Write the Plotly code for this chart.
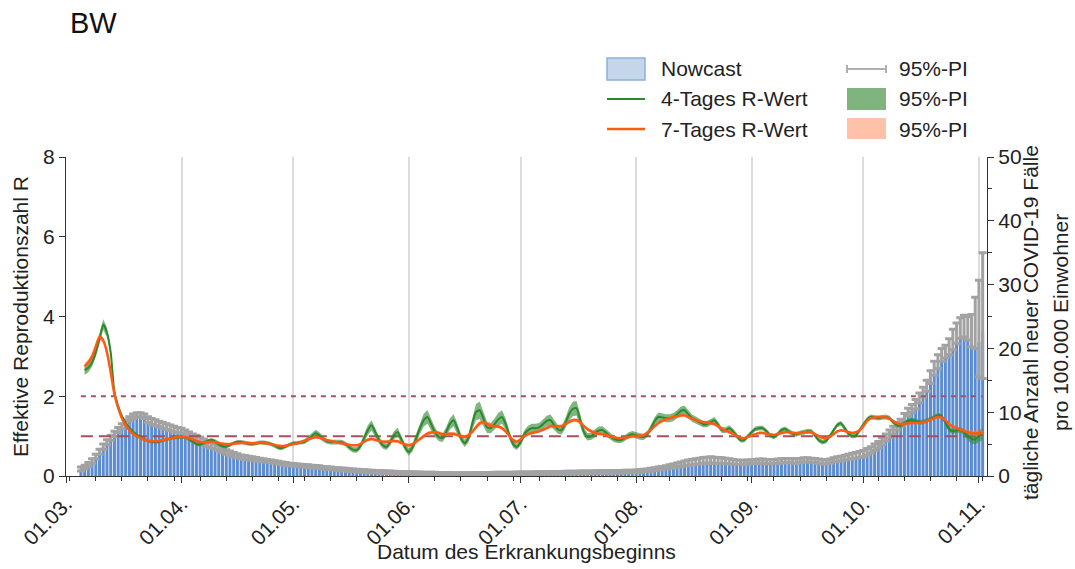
import pandas as pd
import plotly.graph_objects as go

# ---------------- data ----------------
nowcast_start = "2020-03-05"
nowcast = (
    [0.8, 1.1, 1.5, 2.0, 2.7, 3.4, 4.2, 4.9, 5.6, 6.2, 6.8, 7.4, 8.0, 8.6, 9.0, 9.3, 9.2, 9.0, 8.4, 8.1, 7.9, 7.7, 7.5, 7.3, 7.1, 6.9, 6.8]
    + [6.7, 6.4, 6.1, 5.8, 5.5, 5.2, 4.9, 4.6, 4.4, 4.2, 4.0, 3.7, 3.4, 3.2, 3.0, 2.85, 2.7, 2.6, 2.55, 2.5, 2.4, 2.3, 2.25, 2.2, 2.1, 2.0, 1.9, 1.8, 1.7, 1.6]
    + [1.55, 1.5, 1.45, 1.4, 1.35, 1.3, 1.25, 1.2, 1.1, 1.05, 1.0, 0.95, 0.9, 0.85, 0.8, 0.75, 0.7, 0.65, 0.6, 0.6, 0.55, 0.5, 0.5, 0.45, 0.45, 0.4, 0.4, 0.35, 0.35, 0.3, 0.3]
    + [0.3, 0.3, 0.28, 0.27, 0.26, 0.25, 0.24, 0.23, 0.22, 0.22, 0.21, 0.2, 0.2, 0.2, 0.19, 0.19, 0.2, 0.2, 0.21, 0.22, 0.23, 0.23, 0.24, 0.24, 0.25, 0.25, 0.25, 0.25, 0.26, 0.26]
    + [0.27, 0.28, 0.28, 0.29, 0.3, 0.3, 0.3, 0.31, 0.32, 0.32, 0.33, 0.34, 0.34, 0.35, 0.36, 0.37, 0.38, 0.38, 0.39, 0.4, 0.41, 0.42, 0.43, 0.44, 0.45, 0.46, 0.47, 0.48, 0.49, 0.5, 0.5]
    + [0.55, 0.6, 0.65, 0.7, 0.8, 0.85, 0.95, 1.0, 1.1, 1.2, 1.3, 1.4, 1.5, 1.6, 1.7, 1.75, 1.8, 1.9, 2.0, 2.0, 2.0, 2.0, 1.95, 2.0, 1.95, 1.9, 1.85, 1.8, 1.8, 1.85, 1.9]
    + [1.95, 2.0, 2.0, 2.0, 1.95, 1.9, 1.95, 2.0, 2.05, 2.1, 2.1, 2.05, 2.0, 2.1, 2.2, 2.2, 2.15, 2.1, 2.0, 1.9, 1.9, 2.0, 2.2, 2.3, 2.4, 2.5, 2.6, 2.7, 2.8, 2.9]
    + [3.0, 3.3, 3.6, 4.0, 4.4, 4.9, 5.5, 6.0, 6.6, 7.2, 7.8, 8.6, 9.4, 10.0, 10.5, 11.5, 12.4, 13.3, 14.5, 15.8, 16.8, 18.0, 18.5, 19.0, 19.8, 20.8, 21.6, 21.8, 21.3, 20.2, 20.0]
    + [21.0, 22.6]
)
pi_upper = (
    [1.4, 1.7, 2.1, 2.7, 3.4, 4.2, 5.0, 5.7, 6.4, 7.0, 7.6, 8.2, 8.8, 9.3, 9.7, 9.9, 9.9, 9.7, 9.3, 9.0, 8.8, 8.6, 8.4, 8.2, 8.0, 7.8, 7.6]
    + [7.5, 7.2, 6.9, 6.6, 6.4, 6.1, 5.8, 5.5, 5.2, 5.0, 4.7, 4.4, 4.1, 3.9, 3.7, 3.5, 3.3, 3.2, 3.1, 3.0, 2.9, 2.8, 2.7, 2.6, 2.5, 2.4, 2.3, 2.2, 2.1, 2.0]
    + [1.95, 1.9, 1.85, 1.8, 1.75, 1.7, 1.65, 1.6, 1.5, 1.45, 1.4, 1.35, 1.3, 1.25, 1.2, 1.15, 1.1, 1.05, 1.0, 0.98, 0.95, 0.9, 0.88, 0.85, 0.82, 0.8, 0.78, 0.75, 0.72, 0.7, 0.68]
    + [0.66, 0.65, 0.63, 0.62, 0.6, 0.6, 0.58, 0.57, 0.56, 0.55, 0.54, 0.53, 0.52, 0.52, 0.51, 0.51, 0.52, 0.52, 0.53, 0.54, 0.55, 0.55, 0.56, 0.57, 0.58, 0.58, 0.59, 0.6, 0.6, 0.61]
    + [0.62, 0.63, 0.63, 0.64, 0.65, 0.66, 0.67, 0.68, 0.69, 0.7, 0.71, 0.72, 0.73, 0.74, 0.75, 0.76, 0.77, 0.78, 0.79, 0.8, 0.81, 0.82, 0.83, 0.84, 0.85, 0.86, 0.87, 0.88, 0.89, 0.9, 0.92]
    + [0.95, 1.0, 1.05, 1.1, 1.2, 1.3, 1.4, 1.5, 1.6, 1.75, 1.9, 2.05, 2.2, 2.35, 2.5, 2.6, 2.7, 2.8, 2.9, 2.95, 3.0, 2.95, 2.9, 2.85, 2.8, 2.7, 2.6, 2.5, 2.45, 2.45, 2.5]
    + [2.55, 2.6, 2.65, 2.65, 2.6, 2.55, 2.6, 2.65, 2.7, 2.75, 2.75, 2.7, 2.7, 2.75, 2.85, 2.85, 2.8, 2.75, 2.65, 2.55, 2.55, 2.65, 2.85, 3.0, 3.1, 3.25, 3.4, 3.55, 3.7, 3.85]
    + [4.0, 4.3, 4.6, 5.0, 5.4, 6.0, 6.6, 7.2, 7.8, 8.4, 8.9, 9.8, 10.6, 11.2, 12.0, 13.0, 13.9, 15.0, 16.5, 18.0, 19.0, 20.0, 20.5, 21.5, 23.0, 24.0, 24.8, 25.2, 25.0, 25.3, 28.0]
    + [30.7, 35.0]
)
pi_lower_tail = [15.5, 15.3]   # lower PI of the last two nowcast days

r_start = "2020-03-06"
r4 = (
    [2.65, 2.72, 2.85, 3.1, 3.45, 3.8, 3.6, 3.1, 2.1, 1.75, 1.5, 1.33, 1.2, 1.1, 1.03, 0.97, 0.92, 0.88, 0.86, 0.85, 0.86, 0.89, 0.92, 0.94, 0.96, 0.97]
    + [0.97, 0.97, 0.93, 0.86, 0.8, 0.79, 0.83, 0.88, 0.9, 0.87, 0.8, 0.75, 0.74, 0.78, 0.83, 0.85, 0.85, 0.83, 0.81, 0.8, 0.82, 0.84, 0.84, 0.83, 0.8, 0.76, 0.71, 0.7, 0.74, 0.79]
    + [0.82, 0.83, 0.84, 0.86, 0.92, 1.0, 1.07, 1.02, 0.93, 0.87, 0.85, 0.85, 0.85, 0.85, 0.8, 0.72, 0.66, 0.65, 0.75, 0.95, 1.15, 1.27, 1.1, 0.9, 0.77, 0.73, 0.85, 1.02, 1.1, 0.92, 0.72]
    + [0.6, 0.72, 0.95, 1.2, 1.4, 1.48, 1.3, 1.1, 0.98, 0.95, 1.1, 1.3, 1.4, 1.2, 0.95, 0.82, 0.95, 1.3, 1.6, 1.65, 1.45, 1.22, 1.2, 1.3, 1.42, 1.48, 1.3, 1.02, 0.8, 0.73]
    + [0.85, 1.05, 1.15, 1.2, 1.2, 1.22, 1.3, 1.38, 1.4, 1.28, 1.17, 1.15, 1.32, 1.55, 1.68, 1.7, 1.4, 1.1, 0.98, 1.0, 1.08, 1.14, 1.15, 1.08, 1.0, 0.93, 0.9, 0.9, 0.95, 1.02, 1.05]
    + [1.02, 0.99, 0.98, 1.05, 1.2, 1.38, 1.48, 1.47, 1.45, 1.45, 1.48, 1.55, 1.63, 1.65, 1.55, 1.45, 1.4, 1.35, 1.3, 1.3, 1.35, 1.4, 1.28, 1.15, 1.15, 1.2, 1.12, 1.0, 0.9, 0.9, 1.0]
    + [1.1, 1.18, 1.2, 1.2, 1.12, 1.02, 0.98, 1.05, 1.15, 1.18, 1.12, 1.06, 1.05, 1.08, 1.1, 1.12, 1.12, 1.02, 0.9, 0.85, 0.88, 1.0, 1.15, 1.28, 1.32, 1.2, 1.06, 1.0, 1.02, 1.15]
    + [1.3, 1.42, 1.48, 1.47, 1.45, 1.47, 1.48, 1.45, 1.35, 1.28, 1.27, 1.32, 1.38, 1.4, 1.38, 1.35, 1.35, 1.38, 1.42, 1.48, 1.52, 1.5, 1.35, 1.17, 1.12, 1.15, 1.16, 1.1, 1.0, 0.93, 0.92]
    + [1.0, 1.05]
)
r4_hw = (
    [0.12, 0.12, 0.11, 0.11, 0.12, 0.13, 0.12, 0.1, 0.08, 0.07, 0.06, 0.05, 0.05, 0.05, 0.04, 0.04, 0.04, 0.04, 0.04, 0.04, 0.04, 0.04, 0.04, 0.04, 0.04, 0.04]
    + [0.04, 0.04, 0.04, 0.04, 0.04, 0.05, 0.05, 0.05, 0.05, 0.05, 0.05, 0.05, 0.05, 0.05, 0.05, 0.05, 0.05, 0.05, 0.05, 0.05, 0.05, 0.05, 0.05, 0.05, 0.05, 0.05, 0.05, 0.05, 0.05, 0.05]
    + [0.05, 0.05, 0.05, 0.06, 0.07, 0.08, 0.09, 0.08, 0.07, 0.06, 0.06, 0.06, 0.06, 0.06, 0.06, 0.07, 0.07, 0.07, 0.08, 0.1, 0.12, 0.13, 0.11, 0.09, 0.08, 0.08, 0.09, 0.1, 0.11, 0.1, 0.09]
    + [0.09, 0.1, 0.12, 0.14, 0.16, 0.17, 0.15, 0.12, 0.1, 0.1, 0.12, 0.14, 0.15, 0.13, 0.1, 0.09, 0.11, 0.15, 0.2, 0.22, 0.18, 0.14, 0.13, 0.14, 0.16, 0.17, 0.14, 0.11, 0.09, 0.08]
    + [0.08, 0.1, 0.11, 0.11, 0.11, 0.11, 0.12, 0.13, 0.14, 0.12, 0.11, 0.11, 0.13, 0.16, 0.18, 0.18, 0.15, 0.11, 0.09, 0.09, 0.1, 0.1, 0.1, 0.09, 0.08, 0.08, 0.07, 0.07, 0.07, 0.08, 0.08]
    + [0.08, 0.08, 0.08, 0.08, 0.09, 0.1, 0.11, 0.1, 0.1, 0.1, 0.1, 0.1, 0.11, 0.11, 0.1, 0.09, 0.09, 0.08, 0.08, 0.08, 0.08, 0.08, 0.08, 0.07, 0.07, 0.07, 0.07, 0.06, 0.06, 0.06, 0.06]
    + [0.06, 0.06, 0.06, 0.06, 0.06, 0.06, 0.06, 0.06, 0.06, 0.06, 0.06, 0.06, 0.06, 0.06, 0.06, 0.06, 0.06, 0.06, 0.06, 0.06, 0.06, 0.06, 0.06, 0.06, 0.06, 0.06, 0.06, 0.06, 0.06, 0.06]
    + [0.06, 0.06, 0.06, 0.06, 0.06, 0.06, 0.06, 0.06, 0.06, 0.06, 0.06, 0.06, 0.06, 0.06, 0.06, 0.06, 0.06, 0.06, 0.06, 0.06, 0.06, 0.06, 0.06, 0.06, 0.06, 0.07, 0.07, 0.08, 0.1, 0.12, 0.13]
    + [0.14, 0.15]
)
r7 = (
    [2.75, 2.85, 3.0, 3.25, 3.5, 3.4, 3.1, 2.6, 2.05, 1.7, 1.45, 1.28, 1.15, 1.06, 1.0, 0.95, 0.91, 0.88, 0.87, 0.87, 0.88, 0.9, 0.92, 0.94, 0.96, 0.98]
    + [0.98, 0.97, 0.95, 0.92, 0.88, 0.85, 0.84, 0.85, 0.86, 0.85, 0.83, 0.81, 0.8, 0.8, 0.81, 0.82, 0.83, 0.83, 0.82, 0.82, 0.82, 0.83, 0.83, 0.82, 0.8, 0.78, 0.76, 0.75, 0.76, 0.78]
    + [0.8, 0.82, 0.85, 0.88, 0.92, 0.95, 0.97, 0.96, 0.93, 0.9, 0.88, 0.86, 0.84, 0.82, 0.8, 0.78, 0.77, 0.77, 0.8, 0.86, 0.91, 0.93, 0.91, 0.88, 0.86, 0.86, 0.87, 0.88, 0.87, 0.83, 0.79]
    + [0.77, 0.8, 0.86, 0.93, 1.0, 1.06, 1.09, 1.1, 1.08, 1.05, 1.05, 1.06, 1.06, 1.03, 1.0, 0.98, 1.02, 1.1, 1.22, 1.32, 1.35, 1.3, 1.26, 1.25, 1.24, 1.2, 1.12, 1.0, 0.9, 0.86]
    + [0.92, 1.0, 1.05, 1.08, 1.1, 1.12, 1.16, 1.2, 1.25, 1.25, 1.24, 1.25, 1.3, 1.36, 1.4, 1.4, 1.35, 1.25, 1.17, 1.12, 1.08, 1.06, 1.05, 1.03, 1.0, 0.97, 0.95, 0.95, 0.96, 0.98, 1.0]
    + [1.0, 1.01, 1.02, 1.08, 1.16, 1.25, 1.33, 1.38, 1.42, 1.45, 1.48, 1.5, 1.52, 1.52, 1.48, 1.44, 1.4, 1.37, 1.35, 1.34, 1.33, 1.3, 1.25, 1.18, 1.14, 1.1, 1.06, 1.0, 0.96, 0.95, 0.98]
    + [1.02, 1.05, 1.08, 1.08, 1.06, 1.04, 1.03, 1.05, 1.08, 1.1, 1.1, 1.08, 1.07, 1.08, 1.1, 1.1, 1.1, 1.05, 1.0, 0.96, 0.95, 0.98, 1.05, 1.12, 1.15, 1.13, 1.1, 1.08, 1.1, 1.15]
    + [1.25, 1.38, 1.45, 1.47, 1.48, 1.48, 1.47, 1.44, 1.38, 1.32, 1.3, 1.31, 1.32, 1.33, 1.33, 1.33, 1.34, 1.37, 1.41, 1.45, 1.48, 1.47, 1.4, 1.3, 1.24, 1.2, 1.17, 1.13, 1.1, 1.08, 1.07]
    + [1.07, 1.07]
)
r7_hw = (
    [0.08, 0.08, 0.08, 0.08, 0.08, 0.07, 0.06, 0.05, 0.04, 0.04, 0.03, 0.03, 0.03, 0.03, 0.03, 0.03, 0.03, 0.03, 0.03, 0.03, 0.03, 0.03, 0.03, 0.03, 0.03, 0.03]
    + [0.03, 0.03, 0.03, 0.03, 0.03, 0.03, 0.03, 0.03, 0.03, 0.03, 0.03, 0.03, 0.03, 0.03, 0.03, 0.03, 0.03, 0.03, 0.03, 0.03, 0.03, 0.03, 0.03, 0.03, 0.03, 0.03, 0.03, 0.03, 0.03, 0.03]
    + [0.03, 0.03, 0.03, 0.03, 0.03, 0.03, 0.03, 0.03, 0.03, 0.03, 0.03, 0.03, 0.03, 0.03, 0.03, 0.03, 0.03, 0.03, 0.03, 0.04, 0.04, 0.04, 0.04, 0.04, 0.04, 0.04, 0.04, 0.04, 0.04, 0.04, 0.04]
    + [0.04, 0.04, 0.04, 0.04, 0.05, 0.05, 0.05, 0.05, 0.05, 0.05, 0.05, 0.05, 0.05, 0.05, 0.05, 0.05, 0.05, 0.05, 0.06, 0.06, 0.06, 0.06, 0.05, 0.05, 0.05, 0.05, 0.05, 0.05, 0.04, 0.04]
    + [0.04, 0.04, 0.04, 0.04, 0.04, 0.04, 0.04, 0.04, 0.05, 0.05, 0.05, 0.05, 0.05, 0.05, 0.05, 0.05, 0.05, 0.04, 0.04, 0.04, 0.04, 0.04, 0.04, 0.04, 0.04, 0.04, 0.04, 0.04, 0.04, 0.04, 0.04]
    + [0.04, 0.04, 0.04, 0.04, 0.04, 0.04, 0.04, 0.04, 0.04, 0.04, 0.04, 0.04, 0.04, 0.04, 0.04, 0.04, 0.04, 0.04, 0.04, 0.04, 0.04, 0.04, 0.04, 0.04, 0.04, 0.04, 0.04, 0.03, 0.03, 0.03, 0.03]
    + [0.03, 0.03, 0.03, 0.03, 0.03, 0.03, 0.03, 0.03, 0.03, 0.03, 0.03, 0.03, 0.03, 0.03, 0.03, 0.03, 0.03, 0.03, 0.03, 0.03, 0.03, 0.03, 0.03, 0.03, 0.03, 0.03, 0.03, 0.03, 0.03, 0.03]
    + [0.03, 0.03, 0.03, 0.03, 0.03, 0.03, 0.03, 0.03, 0.03, 0.03, 0.03, 0.03, 0.03, 0.03, 0.03, 0.03, 0.03, 0.03, 0.03, 0.03, 0.03, 0.03, 0.03, 0.04, 0.04, 0.04, 0.05, 0.05, 0.06, 0.07, 0.08]
    + [0.09, 0.1]
)
ref_levels = [1, 2]
ref_dashes = ["12px,6px", "5px,5px"]
legend_left = ["Nowcast", "4-Tages R-Wert", "7-Tages R-Wert"]
legend_right = ["95%-PI", "95%-PI", "95%-PI"]
right_title = ["tägliche Anzahl neuer COVID-19 Fälle", "pro 100.000 Einwohner"]
x_title = "Datum des Erkrankungsbeginns"

assert len(nowcast) == len(pi_upper), (len(nowcast), len(pi_upper))
assert len(r4) == len(r4_hw) == len(r7) == len(r7_hw), (len(r4), len(r4_hw), len(r7), len(r7_hw))

nc_dates = pd.date_range(nowcast_start, periods=len(nowcast), freq="D")
r_dates = pd.date_range(r_start, periods=len(r4), freq="D")

err_plus = [u - v for u, v in zip(pi_upper, nowcast)]
err_minus = [0.0] * (len(nowcast) - len(pi_lower_tail)) + [
    v - lo for v, lo in zip(nowcast[-len(pi_lower_tail):], pi_lower_tail)
]

# ---------------- colours ----------------
C_BAR = "#5b8bd0"
C_ERR = "#a2a2a2"
C_GREEN = "#2b8a2b"
C_GREEN_BAND = "rgba(60,140,60,0.65)"
C_ORANGE = "#ff5a14"
C_ORANGE_BAND = "rgba(255,120,70,0.45)"
C_REF = "#a5505c"

# ---------------- geometry (page pixels; body margin removed by post_script) ----------------
W, H = 1075, 569
PL, PR, PT, PB = 66, 987, 157, 476      # plot area in page pixels


def xp(px):
    return (px - PL) / (PR - PL)


def yp(py):
    return (PB - py) / (PB - PT)


FONT = "Liberation Sans, Arial, sans-serif"
FS = 21
fig = go.Figure()

fig.add_trace(go.Bar(x=nc_dates, y=nowcast, yaxis="y", showlegend=False, name="Nowcast",
                     marker=dict(color=C_BAR, line=dict(width=0)),
                     error_y=dict(type="data", symmetric=False, array=err_plus,
                                  arrayminus=err_minus, color=C_ERR,
                                  thickness=3, width=4)))

for lvl, dash in zip(ref_levels, ref_dashes):
    fig.add_trace(go.Scatter(x=[nc_dates[0], nc_dates[-1]], y=[lvl, lvl], yaxis="y2",
                             mode="lines", showlegend=False, hoverinfo="skip",
                             line=dict(color=C_REF, width=2, dash=dash)))

band_x = list(r_dates) + list(r_dates[::-1])
r4_band_y = [v + h for v, h in zip(r4, r4_hw)] + [v - h for v, h in zip(r4[::-1], r4_hw[::-1])]
r7_band_y = [v + h for v, h in zip(r7, r7_hw)] + [v - h for v, h in zip(r7[::-1], r7_hw[::-1])]
fig.add_trace(go.Scatter(x=band_x, y=r4_band_y, yaxis="y2", fill="toself",
                         fillcolor=C_GREEN_BAND, line=dict(width=0), mode="lines",
                         name="95%-PI", showlegend=False, hoverinfo="skip"))
fig.add_trace(go.Scatter(x=band_x, y=r7_band_y, yaxis="y2", fill="toself",
                         fillcolor=C_ORANGE_BAND, line=dict(width=0), mode="lines",
                         name="95%-PI", showlegend=False, hoverinfo="skip"))
fig.add_trace(go.Scatter(x=r_dates, y=r4, yaxis="y2", mode="lines", name="4-Tages R-Wert",
                         line=dict(color=C_GREEN, width=2, shape="spline", smoothing=0.6),
                         showlegend=False))
fig.add_trace(go.Scatter(x=r_dates, y=r7, yaxis="y2", mode="lines", name="7-Tages R-Wert",
                         line=dict(color=C_ORANGE, width=2.5, shape="spline", smoothing=0.6),
                         showlegend=False))

# ---------------- legend (drawn in paper coordinates) ----------------
rows = [69, 99, 129]
shapes = []
annots = []
shapes.append(dict(type="rect", xref="paper", yref="paper", x0=xp(607), x1=xp(645),
                   y0=yp(80), y1=yp(58), fillcolor="#c5d6ea",
                   line=dict(color="#8eaedb", width=1.5)))
shapes.append(dict(type="line", xref="paper", yref="paper", x0=xp(607), x1=xp(645),
                   y0=yp(rows[1]), y1=yp(rows[1]), line=dict(color=C_GREEN, width=2)))
shapes.append(dict(type="line", xref="paper", yref="paper", x0=xp(607), x1=xp(645),
                   y0=yp(rows[2]), y1=yp(rows[2]), line=dict(color=C_ORANGE, width=2.5)))
shapes.append(dict(type="line", xref="paper", yref="paper", x0=xp(847), x1=xp(886),
                   y0=yp(rows[0]), y1=yp(rows[0]), line=dict(color="#b0b0b0", width=2)))
for cx in (847, 886):
    shapes.append(dict(type="line", xref="paper", yref="paper", x0=xp(cx), x1=xp(cx),
                       y0=yp(rows[0] - 4), y1=yp(rows[0] + 4), line=dict(color="#b0b0b0", width=2)))
shapes.append(dict(type="rect", xref="paper", yref="paper", x0=xp(847), x1=xp(886),
                   y0=yp(110), y1=yp(88), fillcolor="#80b47e", line=dict(width=0)))
shapes.append(dict(type="rect", xref="paper", yref="paper", x0=xp(847), x1=xp(886),
                   y0=yp(139), y1=yp(118), fillcolor="#ffc1a8", line=dict(width=0)))
for label, ry in zip(legend_left, rows):
    annots.append(dict(text=label, xref="paper", yref="paper", x=xp(659), y=yp(ry),
                       xanchor="left", yanchor="middle", showarrow=False,
                       font=dict(size=FS, color="#222")))
for label, ry in zip(legend_right, rows):
    annots.append(dict(text=label, xref="paper", yref="paper", x=xp(897), y=yp(ry),
                       xanchor="left", yanchor="middle", showarrow=False,
                       font=dict(size=FS, color="#222")))
annots.append(dict(text="BW", xref="paper", yref="paper", x=xp(68), y=yp(23),
                   xanchor="left", yanchor="middle", showarrow=False,
                   font=dict(size=29, color="#111")))
for label, cx in zip(right_title, (1030, 1060)):
    annots.append(dict(text=label, xref="paper", yref="paper", x=xp(cx), y=yp(323),
                       xanchor="center", yanchor="middle", textangle=-90, showarrow=False,
                       font=dict(size=FS, color="#222")))
annots.append(dict(text=x_title, xref="paper", yref="paper", x=xp(526), y=yp(551),
                   xanchor="center", yanchor="middle", showarrow=False,
                   font=dict(size=FS, color="#222")))

axis_common = dict(showline=True, linecolor="#333333", linewidth=1.3, ticks="outside",
                   ticklen=6, tickcolor="#333333", tickfont=dict(size=FS, color="#222"),
                   zeroline=False, automargin=False)

fig.update_layout(
    width=W, height=H,
    margin=dict(l=PL, r=W - PR, t=PT, b=H - PB),
    paper_bgcolor="white", plot_bgcolor="white",
    font=dict(family=FONT, size=FS, color="#222"),
    barmode="overlay", bargap=0.2, showlegend=False,
    shapes=shapes, annotations=annots,
    xaxis=dict(type="date", range=["2020-03-01", "2020-11-03 04:00"],
               dtick="M1", tick0="2020-03-01", tickformat="%d.%m.", tickangle=-45,
               showgrid=True, gridcolor="#dcdcdc", gridwidth=1.5,
               minor=dict(dtick=7 * 86400000, tick0="2020-03-02", ticks="outside",
                          ticklen=4, tickcolor="#333333", showgrid=False),
               **axis_common),
    yaxis=dict(side="right", range=[0, 50], tickvals=[0, 10, 20, 30, 40, 50],
               showgrid=False,
               minor=dict(dtick=5, ticks="outside", ticklen=4, tickcolor="#333333", showgrid=False),
               **axis_common),
    yaxis2=dict(overlaying="y", side="left", range=[0, 8], tickvals=[0, 2, 4, 6, 8],
                showgrid=False,
                title=dict(text="Effektive Reproduktionszahl R", font=dict(size=FS), standoff=8),
                **axis_common),
)

fig.write_html(
    "out.html",
    config={"displayModeBar": False},
    post_script="document.body.style.margin='0';document.body.style.overflow='hidden';",
)
